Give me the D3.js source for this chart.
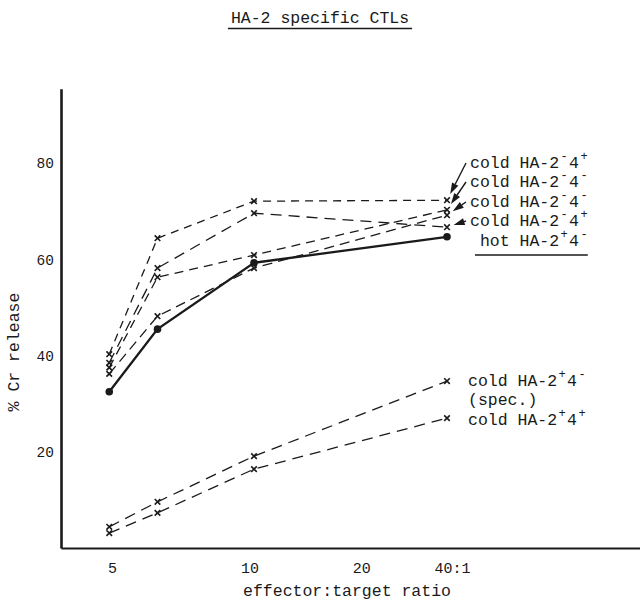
<!DOCTYPE html>
<html><head><meta charset="utf-8">
<script src="https://cdn.jsdelivr.net/npm/d3@7"></script>
<style>body{margin:0;background:#fff}svg{display:block}</style>
</head><body>
<svg id="chart" width="640" height="608"></svg>
<script>
// ---- data ----
const ratios = [5, 10, 20, 40];
const xTickValues = [5, 10, 20, 40];
const xTickLabels = ["5", "10", "20", "40:1"];
const yTickValues = [20, 40, 60, 80];

const coldA = [40.3, 64.4, 72.1, 72.3];
const coldB = [38.5, 58.2, 69.6, 66.7];
const coldC = [37.5, 56.3, 60.9, 70.3];
const coldD = [36.2, 48.2, 58.2, 69.2];
const hotTarget = [32.5, 45.5, 59.3, 64.7];
const coldSpec = [4.4, 9.6, 19.1, 34.7];
const coldPlusPlus = [3.1, 7.3, 16.4, 27.0];

// legend rows: [prefix, sign after 2, sign after 4]
const upperLegend = [["cold", "-", "+"], ["cold", "-", "-"], ["cold", "-", "-"], ["cold", "-", "+"], ["hot", "+", "-"]];
const upperArrowSeries = [coldA, coldC, coldD, coldB];
const lowerLegend = [["cold", "+", "-"], ["(spec.)"], ["cold", "+", "+"]];

const titleText = "HA-2 specific CTLs";
const xTitle = "effector:target ratio";
const yTitle = "% Cr release";

// ---- drawing ----
const svg = d3.select("#chart");
const FONT = "'Liberation Mono', 'DejaVu Sans Mono', monospace";
const ink = "#1a1a1a";

const x = d3.scaleLinear().domain([0, 60]).range([61, 640]);
const y = d3.scaleLinear().domain([0, 95.5]).range([548, 548 - 95.5 * 4.81]);
// typewritten tick labels were not placed at the data positions
const xLab = d3.scalePow().exponent(-0.3).domain([5, 40]).range([112, 452]);

// axes
const yAxis = svg.append("g").attr("transform", `translate(${x(0)},0)`)
  .call(d3.axisLeft(y).tickValues(yTickValues).tickSize(0).tickSizeOuter(0).tickPadding(7));
yAxis.select(".domain").attr("stroke", ink).attr("stroke-width", 2.6);
yAxis.selectAll("text").attr("font-family", FONT).attr("font-size", 14.5).attr("fill", ink);

const xAxis = svg.append("g").attr("transform", `translate(0,${y(0)})`)
  .call(d3.axisBottom(x).tickValues([]).tickSizeOuter(0));
xAxis.select(".domain").attr("stroke", ink).attr("stroke-width", 2);

const xLabAxis = svg.append("g").attr("transform", `translate(0,${y(0)})`)
  .call(d3.axisBottom(xLab).tickValues(xTickValues).tickFormat((d, i) => xTickLabels[i]).tickSize(0).tickPadding(14));
xLabAxis.select(".domain").remove();
xLabAxis.selectAll("text").attr("font-family", FONT).attr("font-size", 15).attr("fill", ink);

// titles
const t = svg.append("text").attr("x", 320).attr("y", 23).attr("text-anchor", "middle")
  .attr("font-family", FONT).attr("font-size", 16.5).attr("fill", ink).text(titleText);
const tb = t.node().getBBox();
svg.append("line").attr("x1", tb.x - 3).attr("x2", tb.x + tb.width + 3).attr("y1", 28.5).attr("y2", 28.5)
  .attr("stroke", ink).attr("stroke-width", 1.6);

svg.append("text").attr("x", 347).attr("y", 596).attr("text-anchor", "middle")
  .attr("font-family", FONT).attr("font-size", 16.5).attr("fill", ink).text(xTitle);

svg.append("text").attr("transform", "translate(19,352) rotate(-90)").attr("text-anchor", "middle")
  .attr("font-family", FONT).attr("font-size", 16.5).attr("fill", ink).text(yTitle);

// series
const line = d3.line().x((d, i) => x(ratios[i])).y(d => y(d));
const dashed = [coldA, coldB, coldC, coldD, coldSpec, coldPlusPlus];
const dashes = ["8,6", "11,7", "9,6", "10,6", "11,7", "11,7"];
dashed.forEach((s, k) => {
  svg.append("path").attr("d", line(s)).attr("fill", "none").attr("stroke", ink)
    .attr("stroke-width", 1.3).attr("stroke-dasharray", dashes[k]);
  svg.append("g").selectAll("path").data(s).join("path")
    .attr("d", (d, i) => {
      const cx = x(ratios[i]), cy = y(d), r = 2.8;
      return `M${cx - r},${cy - r}L${cx + r},${cy + r}M${cx - r},${cy + r}L${cx + r},${cy - r}`;
    })
    .attr("stroke", ink).attr("stroke-width", 1.6);
});
svg.append("path").attr("d", line(hotTarget)).attr("fill", "none").attr("stroke", ink).attr("stroke-width", 2.3);
svg.append("g").selectAll("circle").data(hotTarget).join("circle")
  .attr("cx", (d, i) => x(ratios[i])).attr("cy", d => y(d)).attr("r", 3.8).attr("fill", ink);

// legends
const CW = 9.9, FS = 16.5, SUP = 12;
function legendRow(row, x0, base) {
  const g = svg.append("g");
  const txt = g.append("text").attr("font-family", FONT).attr("font-size", FS).attr("fill", ink).attr("y", base);
  if (row.length === 1) {
    txt.attr("x", x0).text(row[0]);
    return g;
  }
  const pre = row[0] + " HA-2";
  const start = x0 + (4 - row[0].length) * CW;
  txt.append("tspan").attr("x", start).attr("y", base).text(pre);
  txt.append("tspan").attr("x", x0 + 9 * CW + 1.5).attr("y", base - 8).attr("font-size", SUP).text(row[1]);
  txt.append("tspan").attr("x", x0 + 10 * CW).attr("y", base).text("4");
  txt.append("tspan").attr("x", x0 + 11 * CW + 1.5).attr("y", base - 8).attr("font-size", SUP).text(row[2]);
  return g;
}
const legX = 470;
const upperBase = [168, 187, 207, 226, 246];
upperLegend.forEach((r, i) => legendRow(r, legX, upperBase[i]));
svg.append("line").attr("x1", 475).attr("x2", legX + 12 * CW - 1).attr("y1", 255).attr("y2", 255)
  .attr("stroke", ink).attr("stroke-width", 1.6);

const lowerBase = [386, 405, 425];
lowerLegend.forEach((r, i) => legendRow(r, 468, lowerBase[i]));

// arrows from legend rows to line ends
upperArrowSeries.forEach((s, i) => {
  const sx = legX - 4, sy = upperBase[i] - 5;
  const tx = x(ratios[3]), ty = y(s[3]);
  let dx = tx - sx, dy = ty - sy; const L = Math.hypot(dx, dy); dx /= L; dy /= L;
  const tipX = tx - dx * 7, tipY = ty - dy * 7;
  const bx = tipX - dx * 11, by = tipY - dy * 11;
  const nx = -dy, ny = dx;
  svg.append("line").attr("x1", sx).attr("y1", sy).attr("x2", bx).attr("y2", by)
    .attr("stroke", ink).attr("stroke-width", 1.4);
  svg.append("path").attr("d", `M${tipX},${tipY}L${bx + nx * 3.5},${by + ny * 3.5}L${bx - nx * 3.5},${by - ny * 3.5}Z`)
    .attr("fill", ink);
});
</script>
</body></html>
